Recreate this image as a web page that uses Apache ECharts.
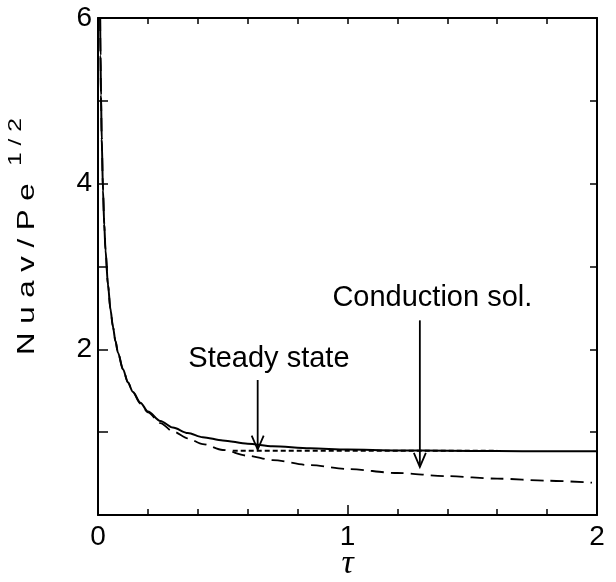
<!DOCTYPE html>
<html>
<head>
<meta charset="utf-8">
<script src="https://cdn.jsdelivr.net/npm/echarts@6/dist/echarts.min.js"></script>
<style>html,body{margin:0;padding:0;background:#fff}#c{width:616px;height:582px}</style>
</head>
<body>
<div id="c"></div>
<script>
// ---- data ----
var solidTau  = [0.0086, 0.01, 0.012, 0.015, 0.02, 0.025, 0.03, 0.04, 0.05, 0.06, 0.07, 0.08, 0.1, 0.12, 0.14, 0.17, 0.2, 0.25, 0.3, 0.36, 0.42, 0.5, 0.6, 0.7, 0.85, 1.0, 1.2, 1.4, 1.6, 1.8, 2.0];
var solidNu   = [6.0, 5.55, 5.07, 4.53, 3.92, 3.51, 3.2, 2.78, 2.48, 2.27, 2.10, 1.96, 1.76, 1.60, 1.485, 1.355, 1.25, 1.135, 1.055, 0.99, 0.94, 0.90, 0.86, 0.83, 0.805, 0.79, 0.78, 0.775, 0.772, 0.77, 0.77];
var condTau   = [0.0086, 0.01, 0.012, 0.015, 0.02, 0.025, 0.03, 0.04, 0.05, 0.06, 0.07, 0.08, 0.1, 0.12, 0.14, 0.17, 0.2, 0.25, 0.3, 0.36, 0.42, 0.5, 0.6, 0.7, 0.85, 1.0, 1.2, 1.4, 1.6, 1.8, 1.98];
var condNu    = [6.0, 5.55, 5.07, 4.53, 3.92, 3.51, 3.2, 2.78, 2.48, 2.27, 2.10, 1.96, 1.76, 1.60, 1.48, 1.345, 1.24, 1.11, 1.01, 0.925, 0.856, 0.785, 0.716, 0.663, 0.602, 0.555, 0.507, 0.469, 0.439, 0.414, 0.39];
var steadyTau = [0.54, 1.6];
var steadyNu  = [0.775, 0.775];
var arrows = [ // [tau, fromNu, toNu]
  [0.64, 1.63, 0.79],
  [1.29, 2.35, 0.58]
];
var notes = [ // [tau, Nu, text]
  [0.685, 1.88, 'Steady state'],
  [1.34, 2.62, 'Conduction sol.']
];
var xTicks = [0, 1, 2];
var yTicks = [2, 4, 6];

function pairs(a, b) { return a.map(function (v, i) { return [v, b[i]]; }); }

var chart = echarts.init(document.getElementById('c'), null, {renderer: 'canvas'});
var axisLine = {show: true, onZero: false, lineStyle: {color: '#000', width: 2}};
var font = 'Liberation Sans, Arial, Helvetica, sans-serif';

chart.setOption({
  backgroundColor: '#fff',
  animation: false,
  grid: {left: 98, right: 19, top: 18, bottom: 67, containLabel: false, outerBoundsMode: 'none'},
  xAxis: [{
    type: 'value', min: 0, max: 2, interval: 1, position: 'bottom',
    axisLine: axisLine,
    axisTick: {show: true, inside: true, length: 10, lineStyle: {color: '#000', width: 1.5}},
    minorTick: {show: true, splitNumber: 5, length: 6, lineStyle: {color: '#000', width: 1.5}},
    splitLine: {show: false},
    axisLabel: {color: '#000', fontSize: 28, fontFamily: font, margin: 8,
      formatter: function (v) { return xTicks.indexOf(v) >= 0 ? String(v) : ''; }},
    name: 'τ', nameLocation: 'middle', nameGap: 32, nameMoveOverlap: false,
    nameTextStyle: {color: '#000', fontSize: 34, fontStyle: 'italic', fontFamily: 'Liberation Serif, DejaVu Serif, serif'}
  }, {
    type: 'value', min: 0, max: 2, interval: 1, position: 'top',
    axisLine: axisLine,
    axisTick: {show: true, inside: true, length: 6, lineStyle: {color: '#000', width: 1.5}},
    minorTick: {show: true, splitNumber: 5, length: 6, lineStyle: {color: '#000', width: 1.5}},
    splitLine: {show: false}, axisLabel: {show: false}
  }],
  yAxis: [{
    type: 'value', min: 0, max: 6, interval: 1, position: 'left',
    axisLine: axisLine,
    axisTick: {show: true, inside: true, length: 10, lineStyle: {color: '#000', width: 1.5}},
    splitLine: {show: false},
    axisLabel: {color: '#000', fontSize: 28, fontFamily: font, margin: 6,
      formatter: function (v) { return yTicks.indexOf(v) >= 0 ? String(v) : ''; }}
  }, {
    type: 'value', min: 0, max: 6, interval: 1, position: 'right',
    axisLine: axisLine,
    axisTick: {show: true, inside: true, length: 7, lineStyle: {color: '#000', width: 1.5}},
    splitLine: {show: false}, axisLabel: {show: false}
  }],
  series: [{
    type: 'line', name: 'solution', data: pairs(solidTau, solidNu),
    smooth: 0.3, smoothMonotone: 'x', showSymbol: false,
    lineStyle: {color: '#000', width: 2}
  }, {
    type: 'line', name: 'conduction', data: pairs(condTau, condNu),
    smooth: 0.3, smoothMonotone: 'x', showSymbol: false,
    lineStyle: {color: '#000', width: 1.8, type: [13, 7]}
  }, {
    type: 'line', name: 'steady', data: pairs(steadyTau, steadyNu),
    showSymbol: false,
    lineStyle: {color: '#000', width: 2, type: [5, 3]}
  }, {
    type: 'custom', name: 'arrows', data: arrows, clip: false,
    renderItem: function (params, api) {
      var p1 = api.coord([api.value(0), api.value(1)]);
      var p2 = api.coord([api.value(0), api.value(2)]);
      return {type: 'group', children: [
        {type: 'line', shape: {x1: p1[0], y1: p1[1], x2: p2[0], y2: p2[1]}, style: {stroke: '#000', lineWidth: 1.8}},
        {type: 'polyline', shape: {points: [[p2[0] - 6, p2[1] - 14], [p2[0], p2[1]], [p2[0] + 6, p2[1] - 14]]}, style: {stroke: '#000', lineWidth: 1.8, fill: null}}
      ]};
    }
  }, {
    type: 'custom', name: 'notes', data: notes, clip: false,
    renderItem: function (params, api) {
      var p = api.coord([api.value(0), api.value(1)]);
      return {type: 'text', x: p[0], y: p[1], style: {
        text: notes[params.dataIndex][2], fill: '#000', font: '29px ' + font,
        textAlign: 'center', textVerticalAlign: 'middle'}};
    }
  }],
  graphic: [{
    type: 'text', x: 27, y: 355, rotation: Math.PI / 2, scaleX: 1.3,
    style: {text: 'N u a v / P e', font: '24px ' + font, fill: '#000', textAlign: 'left', textVerticalAlign: 'middle'}
  }, {
    type: 'text', x: 16, y: 166, rotation: Math.PI / 2, scaleX: 1.3,
    style: {text: '1 / 2', font: '19px ' + font, fill: '#000', textAlign: 'left', textVerticalAlign: 'middle'}
  }]
});
</script>
</body>
</html>
